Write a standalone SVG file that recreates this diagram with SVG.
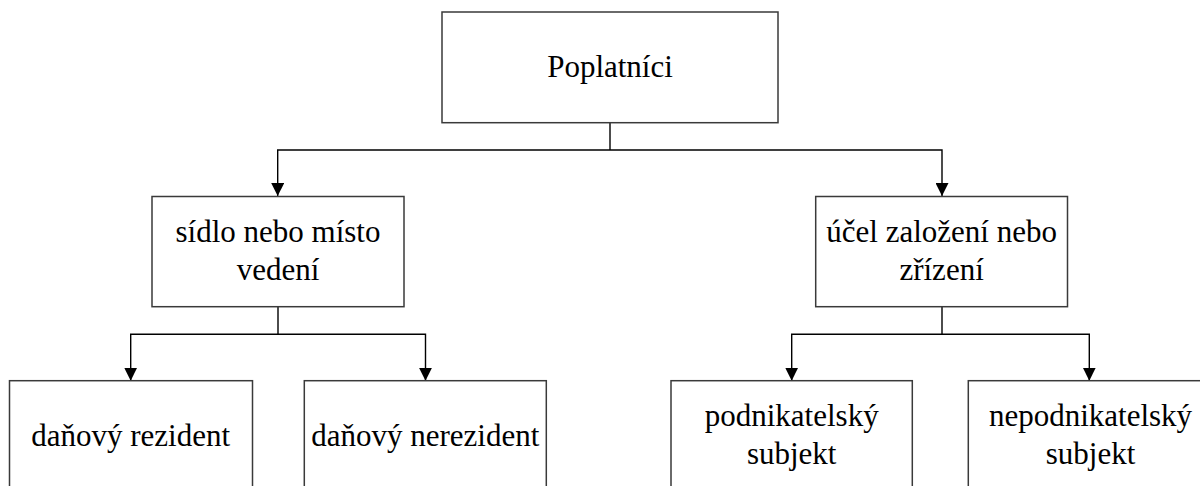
<svg xmlns="http://www.w3.org/2000/svg" width="1200" height="486" viewBox="0 0 1200 486">
  <defs>
    <marker id="arrow" viewBox="0 0 13 13" refX="13" refY="6.5" markerWidth="13" markerHeight="13" markerUnits="userSpaceOnUse" orient="auto">
      <path d="M0,0 L13,6.5 L0,13 z" fill="#000"/>
    </marker>
    <style>
      .box { fill: #fff; stroke: #3a3a3a; stroke-width: 1.5; }
      .lbl { font-family: 'Liberation Serif', 'Times New Roman', Times, 'DejaVu Serif', serif; font-size: 31px; fill: #000; text-anchor: middle; }
      .conn { fill: none; stroke: #000; stroke-width: 1.4; }
    </style>
  </defs>
  <rect width="1200" height="486" fill="#fff"/>

  <g id="connectors">
    <path class="conn" d="M610,122.7 V150"/>
    <path class="conn" d="M610,150 H277.7 V196" marker-end="url(#arrow)"/>
    <path class="conn" d="M610,150 H942 V196" marker-end="url(#arrow)"/>
    <path class="conn" d="M278,306.7 V334.3"/>
    <path class="conn" d="M278,334.3 H130.7 V380.7" marker-end="url(#arrow)"/>
    <path class="conn" d="M278,334.3 H425.5 V380.7" marker-end="url(#arrow)"/>
    <path class="conn" d="M942,306.7 V334.3"/>
    <path class="conn" d="M942,334.3 H791.7 V380.7" marker-end="url(#arrow)"/>
    <path class="conn" d="M942,334.3 H1089.3 V380.7" marker-end="url(#arrow)"/>
  </g>

  <g id="node-poplatnici">
    <rect class="box" x="442" y="12" width="336" height="110.7"/>
    <text class="lbl" x="610" y="77" font-family="Liberation Serif, serif">Poplatníci</text>
  </g>

  <g id="node-sidlo">
    <rect class="box" x="152" y="196.5" width="252" height="110.2"/>
    <text class="lbl" x="278" y="242">sídlo nebo místo</text>
    <text class="lbl" x="278" y="280">vedení</text>
  </g>

  <g id="node-ucel">
    <rect class="box" x="815.7" y="196.5" width="251.8" height="110.2"/>
    <text class="lbl" x="941.6" y="242">účel založení nebo</text>
    <text class="lbl" x="941.6" y="280">zřízení</text>
  </g>

  <g id="node-rezident">
    <rect class="box" x="9.5" y="380.7" width="243" height="110"/>
    <text class="lbl" x="130.7" y="446">daňový rezident</text>
  </g>

  <g id="node-nerezident">
    <rect class="box" x="304.3" y="380.7" width="242" height="110"/>
    <text class="lbl" x="425.3" y="446">daňový nerezident</text>
  </g>

  <g id="node-podnikatelsky">
    <rect class="box" x="671" y="380.7" width="241.3" height="110"/>
    <text class="lbl" x="791.7" y="426">podnikatelský</text>
    <text class="lbl" x="791.7" y="463.5">subjekt</text>
  </g>

  <g id="node-nepodnikatelsky">
    <rect class="box" x="968.3" y="380.7" width="242" height="110"/>
    <text class="lbl" x="1090.5" y="426">nepodnikatelský</text>
    <text class="lbl" x="1090.5" y="463.5">subjekt</text>
  </g>
</svg>
